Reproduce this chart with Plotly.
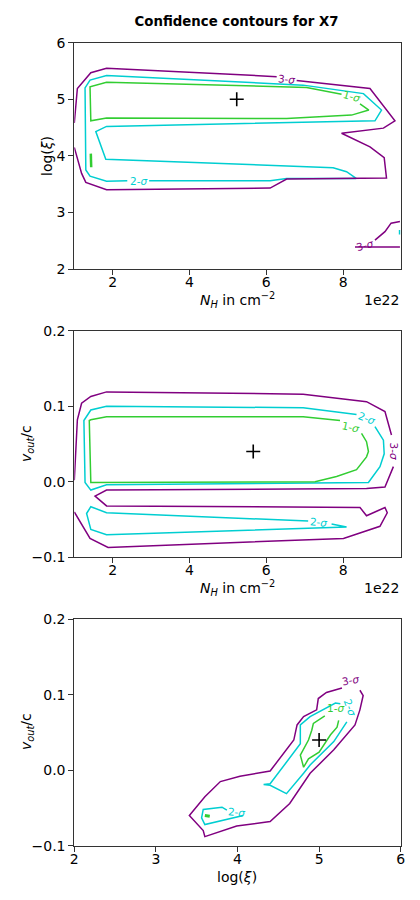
import plotly.graph_objects as go

# ---------------- colours ----------------
C3 = "#800080"   # 3-sigma
C2 = "#00CED1"   # 2-sigma
C1 = "#32CD32"   # 1-sigma

# ---------------- Panel 1: N_H (1e22 cm^-2) vs log(xi) ----------------
p1_s3a_x = [1.0, 1.08, 1.43, 1.84, 6.27]
p1_s3a_y = [4.58, 5.19, 5.47, 5.55, 5.40]
p1_s3b_x = [6.79, 8.70, 9.35, 9.05, 7.96, 8.70, 9.07, 9.13, 6.53, 6.10, 1.84, 1.30, 1.19, 1.0]
p1_s3b_y = [5.33, 5.19, 4.62, 4.49, 4.40, 4.16, 3.97, 3.61, 3.59, 3.43, 3.40, 3.53, 3.69, 4.15]
p1_s3c_x = [9.48, 9.25, 9.09, 8.83]
p1_s3c_y = [2.84, 2.81, 2.66, 2.51]
p1_s3d_x = [8.31, 9.48]
p1_s3d_y = [2.39, 2.39]
p1_s2a_x = [2.38, 1.84, 1.41, 1.30, 1.28, 1.41, 1.84, 6.96, 8.53, 9.00, 8.83, 1.84, 1.56, 1.82, 7.74, 8.09, 8.34, 6.53, 6.10, 2.95]
p1_s2a_y = [3.56, 3.55, 3.64, 3.75, 5.20, 5.34, 5.42, 5.25, 5.10, 4.81, 4.62, 4.52, 4.43, 3.94, 3.79, 3.72, 3.60, 3.60, 3.56, 3.56]
p1_s2b_x = [9.47, 9.47]
p1_s2b_y = [2.69, 2.61]
p1_s1a_x = [8.44, 8.67, 8.22, 6.53, 1.84, 1.43, 1.41, 1.84, 7.05, 7.96]
p1_s1a_y = [4.92, 4.81, 4.72, 4.66, 4.67, 4.62, 5.22, 5.30, 5.21, 5.09]
p1_s1b_x = [1.43, 1.44]
p1_s1b_y = [4.04, 3.80]
p1_best = ([5.23], [5.0])
p1_labels = [  # (text, x, y, angle, colour)
    ("3", 6.53, 5.36, 5, C3),
    ("1", 8.22, 5.05, 15, C1),
    ("2", 2.67, 3.56, 0, C2),
    ("3", 8.57, 2.43, -15, C3),
]

# ---------------- Panel 2: N_H vs v_out/c ----------------
p2_s3a_x = [1.0, 1.08, 1.19, 1.43, 1.84, 6.96, 8.61, 9.09, 9.26]
p2_s3a_y = [0.002, 0.082, 0.104, 0.113, 0.119, 0.116, 0.106, 0.093, 0.062]
p2_s3b_x = [9.31, 9.09, 8.61, 1.84, 1.54, 1.84, 8.44, 8.61, 9.09, 9.15, 8.96, 8.01, 1.88, 1.41, 1.0]
p2_s3b_y = [0.020, -0.007, -0.009, -0.011, -0.019, -0.032, -0.034, -0.045, -0.034, -0.041, -0.059, -0.075, -0.087, -0.075, -0.040]
p2_s2a_x = [8.83, 9.05, 9.07, 8.96, 8.66, 1.84, 1.43, 1.28, 1.25, 1.43, 1.84, 6.96, 8.35]
p2_s2a_y = [0.073, 0.055, 0.037, 0.020, -0.001, -0.004, -0.011, -0.001, 0.081, 0.095, 0.100, 0.098, 0.089]
p2_s2b_x = [7.70, 8.09, 1.84, 1.43, 1.32, 1.43, 1.84, 7.09]
p2_s2b_y = [-0.056, -0.060, -0.070, -0.063, -0.042, -0.033, -0.041, -0.052]
p2_s1_x = [8.48, 8.61, 8.66, 8.61, 8.35, 7.83, 7.27, 1.84, 1.43, 1.39, 1.43, 1.84, 6.96, 7.92]
p2_s1_y = [0.064, 0.053, 0.040, 0.033, 0.016, 0.007, 0.000, -0.001, -0.001, 0.081, 0.082, 0.086, 0.086, 0.081]
p2_best = ([5.66], [0.040])
p2_labels = [
    ("3", 9.35, 0.040, 90, C3),
    ("2", 8.61, 0.084, 20, C2),
    ("1", 8.20, 0.073, 12, C1),
    ("2", 7.35, -0.053, 5, C2),
]

# ---------------- Panel 3: log(xi) vs v_out/c ----------------
p3_s3_x = [5.50, 5.54, 5.50, 5.44, 5.18, 4.89, 4.64, 4.40, 3.99, 3.60, 3.58, 3.41, 3.60, 3.79, 4.03, 4.40, 4.69, 4.73, 4.81, 4.97, 4.99, 5.09, 5.28]
p3_s3_y = [0.106, 0.099, 0.080, 0.060, 0.027, -0.004, -0.044, -0.068, -0.074, -0.088, -0.080, -0.060, -0.035, -0.015, -0.008, -0.001, 0.040, 0.060, 0.071, 0.080, 0.095, 0.103, 0.109]
p3_s2a_x = [5.34, 5.18, 4.89, 4.81, 4.60, 4.40, 4.32, 4.40, 4.77, 4.77, 4.89, 5.11, 5.20, 5.26]
p3_s2a_y = [0.064, 0.038, 0.007, -0.004, -0.031, -0.020, -0.019, -0.018, 0.035, 0.060, 0.071, 0.084, 0.089, 0.088]
p3_s2b_x = [4.07, 3.60, 3.56, 3.58, 3.81, 3.87]
p3_s2b_y = [-0.060, -0.072, -0.063, -0.052, -0.049, -0.053]
p3_s1a_x = [5.07, 4.93, 4.91, 4.87, 4.77, 4.81, 4.87, 5.00, 5.14, 5.22, 5.24]
p3_s1a_y = [0.072, 0.062, 0.053, 0.040, 0.020, 0.004, 0.015, 0.024, 0.047, 0.057, 0.066]
p3_s1b_x = [3.60, 3.66]
p3_s1b_y = [-0.060, -0.061]
p3_best = ([5.0], [0.040])
p3_labels = [
    ("3", 5.39, 0.119, -10, C3),
    ("1", 5.20, 0.083, 0, C1),
    ("2", 5.38, 0.084, 70, C2),
    ("2", 3.99, -0.055, 5, C2),
]

# ---------------- axes & ticks ----------------
x1_range, y1_range = [1, 9.5], [2, 6]
x2_range, y2_range = [1, 9.5], [-0.1, 0.2]
x3_range, y3_range = [2, 6], [-0.1, 0.2]

FONT = "DejaVu Sans"
fig = go.Figure()


def add_line(x, y, color, ax, width=1.5):
    fig.add_trace(go.Scatter(x=x, y=y, mode="lines", line=dict(color=color, width=width),
                             xaxis="x" + ax, yaxis="y" + ax, showlegend=False, hoverinfo="skip"))


def add_best(pt, ax):
    fig.add_trace(go.Scatter(x=pt[0], y=pt[1], mode="markers",
                             marker=dict(symbol="cross-thin", size=10, line=dict(color="black", width=1.6)),
                             xaxis="x" + ax, yaxis="y" + ax, showlegend=False))


def add_labels(labels, ax):
    for t, x, y, ang, col in labels:
        fig.add_annotation(x=x, y=y, xref="x" + ax, yref="y" + ax, text=t + "-<i>σ</i>",
                           showarrow=False, textangle=ang,
                           font=dict(family=FONT, size=10.5, color=col))


# panel 1
for xs, ys in [(p1_s2a_x, p1_s2a_y), (p1_s2b_x, p1_s2b_y)]:
    add_line(xs, ys, C2, "")
add_line(p1_s1a_x, p1_s1a_y, C1, "")
add_line(p1_s1b_x, p1_s1b_y, C1, "", width=2.5)
for xs, ys in [(p1_s3a_x, p1_s3a_y), (p1_s3b_x, p1_s3b_y), (p1_s3c_x, p1_s3c_y), (p1_s3d_x, p1_s3d_y)]:
    add_line(xs, ys, C3, "")
add_best(p1_best, "")
add_labels(p1_labels, "")

# panel 2
for xs, ys in [(p2_s2a_x, p2_s2a_y), (p2_s2b_x, p2_s2b_y)]:
    add_line(xs, ys, C2, "2")
add_line(p2_s1_x, p2_s1_y, C1, "2")
for xs, ys in [(p2_s3a_x, p2_s3a_y), (p2_s3b_x, p2_s3b_y)]:
    add_line(xs, ys, C3, "2")
add_best(p2_best, "2")
add_labels(p2_labels, "2")

# panel 3
for xs, ys in [(p3_s2a_x, p3_s2a_y), (p3_s2b_x, p3_s2b_y)]:
    add_line(xs, ys, C2, "3")
add_line(p3_s1a_x, p3_s1a_y, C1, "3")
add_line(p3_s1b_x, p3_s1b_y, C1, "3", width=3)
add_line(p3_s3_x, p3_s3_y, C3, "3")
add_best(p3_best, "3")
add_labels(p3_labels, "3")

# The page body has an 8 px margin, so the figure is 404x884 starting at (8, 8).
W, H, OFF = 404, 884, 8


def px(p):
    return (p - OFF) / W


def py(p):
    return 1 - (p - OFF) / H


xdom = [px(74.3), px(400.7)]
doms = [[py(269), py(42.7)], [py(557.3), py(330.7)], [py(845.7), py(619.3)]]

common = dict(showline=True, linecolor="#333", linewidth=1, mirror=True, ticks="outside",
              ticklen=5, tickcolor="#333", showgrid=False, zeroline=False, automargin=False,
              tickfont=dict(family=FONT, size=14, color="black"))
xcommon = dict(common, ticklabelstandoff=-5)
TF = dict(family=FONT, size=14, color="black")
nh_title = "<i>N</i><sub><i>H</i></sub> in cm<sup>−2</sup>"
v_title = "<i>v</i><sub><i>out</i></sub>/c"
xi_title = "log(<i>ξ</i>)"

fig.update_layout(
    width=W, height=H, margin=dict(l=0, r=0, t=0, b=0),
    plot_bgcolor="white", paper_bgcolor="white", font=dict(family=FONT, color="black"),
    title=dict(text="<b>Confidence contours for X7</b>", x=px(236.5), xanchor="center",
               y=py(21), yanchor="middle", font=dict(family=FONT, size=13.3, color="black")),
    xaxis=dict(domain=xdom, range=x1_range, dtick=2, tick0=0, anchor="y", **xcommon),
    yaxis=dict(domain=doms[0], range=y1_range, dtick=1, anchor="x", **common),
    xaxis2=dict(domain=xdom, range=x2_range, dtick=2, tick0=0, anchor="y2", **xcommon),
    yaxis2=dict(domain=doms[1], range=y2_range, dtick=0.1, tickformat=".1f", anchor="x2", **common),
    xaxis3=dict(domain=xdom, range=x3_range, dtick=1, anchor="y3", **xcommon),
    yaxis3=dict(domain=doms[2], range=y3_range, dtick=0.1, tickformat=".1f", anchor="x3", **common),
)

# axis titles and offset text, placed as in the reference
axis_texts = [  # (text, x px, y px, angle, xanchor)
    (nh_title, 237.5, 300, 0, "center"),
    ("1e22", 400.5, 300, 0, "right"),
    (xi_title, 47, 156, -90, "center"),
    (nh_title, 237.5, 588, 0, "center"),
    ("1e22", 400.5, 588, 0, "right"),
    (v_title, 27, 444, -90, "center"),
    (v_title, 27, 732, -90, "center"),
    (xi_title, 237.5, 877, 0, "center"),
]
for t, x, y, ang, xa in axis_texts:
    fig.add_annotation(text=t, xref="paper", yref="paper", x=px(x), y=py(y), xanchor=xa,
                       yanchor="middle", textangle=ang, showarrow=False, font=TF)

fig.write_html("out.html")
